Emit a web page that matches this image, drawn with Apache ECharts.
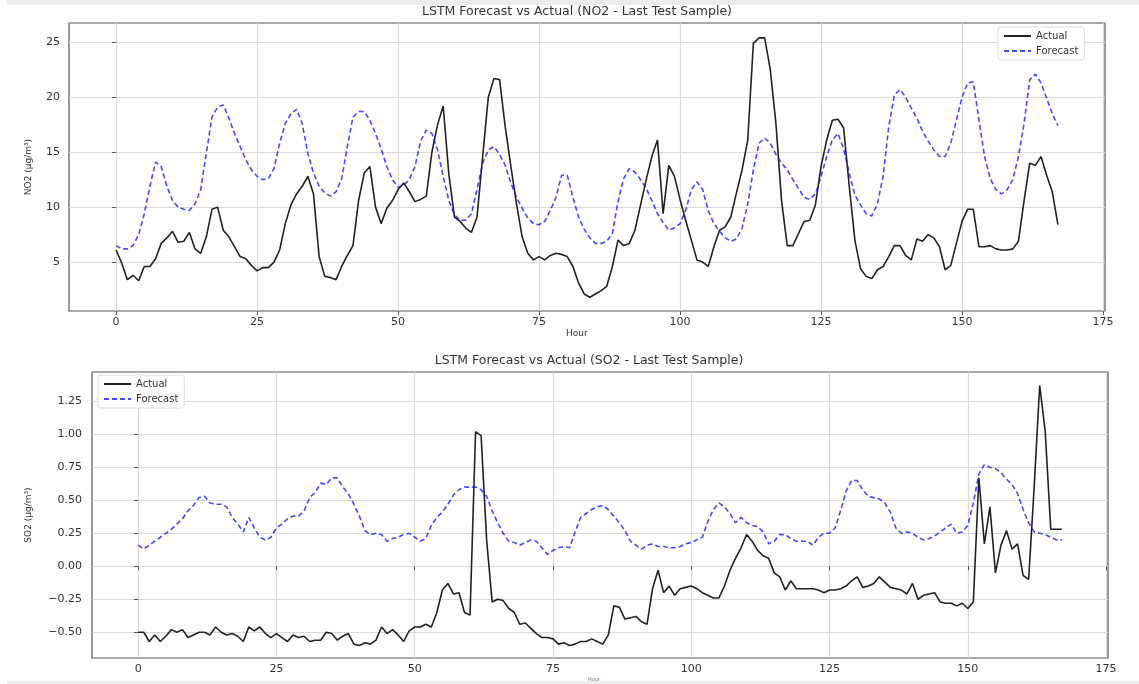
<!DOCTYPE html>
<html>
<head>
<meta charset="utf-8">
<script src="https://cdn.jsdelivr.net/npm/echarts@6/dist/echarts.min.js"></script>
<style>
html,body{margin:0;padding:0;background:#fff;}
#chart{width:1139px;height:684px;}
</style>
</head>
<body>
<div id="chart"></div>
<script>
// ---- data ----
const hourTicks = [0, 25, 50, 75, 100, 125, 150, 175];
const no2Ticks = [5, 10, 15, 20, 25];
const so2Ticks = [-0.5, -0.25, 0, 0.25, 0.5, 0.75, 1.0, 1.25];

const no2Actual = [
  6.1, 4.9, 3.4, 3.8, 3.3, 4.6, 4.6, 5.3, 6.7, 7.2,
  7.8, 6.8, 6.9, 7.7, 6.2, 5.8, 7.3, 9.8, 10.0, 7.9,
  7.3, 6.4, 5.5, 5.3, 4.7, 4.2, 4.5, 4.5, 5.0, 6.1,
  8.5, 10.2, 11.2, 11.9, 12.8, 11.2, 5.5, 3.7, 3.6, 3.4,
  4.6, 5.6, 6.5, 10.6, 13.1, 13.7, 10.0, 8.5, 9.9, 10.6,
  11.6, 12.2, 11.4, 10.5, 10.7, 11.0, 15.0, 17.5, 19.2, 13.0,
  9.1, 8.7, 8.1, 7.7, 9.1, 14.6, 20.0, 21.7, 21.6, 17.3,
  13.7, 10.3, 7.3, 5.8, 5.2, 5.5, 5.2, 5.6, 5.8, 5.7,
  5.5, 4.6, 3.1, 2.1, 1.8, 2.1, 2.4, 2.8, 4.6, 7.0,
  6.5, 6.7, 7.9, 10.2, 12.5, 14.6, 16.1, 9.4, 13.8, 12.8,
  10.7, 8.8, 7.0, 5.2, 5.0, 4.6, 6.4, 7.9, 8.2, 9.1,
  11.3, 13.4, 16.1, 24.9, 25.4, 25.4, 22.5, 17.6, 10.6, 6.5,
  6.5, 7.6, 8.7, 8.8, 10.2, 13.7, 16.1, 17.9, 18.0, 17.2,
  11.9, 7.0, 4.4, 3.7, 3.5, 4.3, 4.6, 5.5, 6.5, 6.5,
  5.6, 5.2, 7.1, 6.9, 7.5, 7.2, 6.4, 4.3, 4.7, 6.7,
  8.7, 9.8, 9.8, 6.4, 6.4, 6.5, 6.2, 6.1, 6.1, 6.2,
  6.9, 10.6, 14.0, 13.8, 14.6, 12.9, 11.4, 8.4
];
const no2Forecast = [
  6.5, 6.2, 6.2, 6.5, 7.5, 9.4, 11.9, 14.1, 13.7, 11.9,
  10.6, 10.0, 9.8, 9.7, 10.3, 11.6, 14.9, 18.2, 19.1, 19.3,
  18.1, 16.7, 15.5, 14.3, 13.4, 12.8, 12.5, 12.6, 13.5, 15.8,
  17.6, 18.5, 18.9, 17.6, 14.9, 13.1, 11.9, 11.3, 11.0, 11.4,
  12.6, 15.5, 18.2, 18.7, 18.7, 17.9, 16.7, 15.3, 13.7, 12.5,
  11.8, 12.0, 12.5, 13.7, 16.0, 17.0, 16.7, 15.2, 12.8, 10.6,
  9.3, 8.8, 8.8, 9.4, 11.6, 14.0, 15.2, 15.5, 14.8, 13.8,
  12.2, 10.9, 9.9, 9.0, 8.5, 8.4, 8.7, 9.7, 10.9, 12.9,
  12.9, 10.9, 9.1, 8.0, 7.2, 6.7, 6.7, 6.9, 7.6, 10.5,
  12.6, 13.5, 13.2, 12.5, 11.7, 10.6, 9.4, 8.6, 7.9, 8.1,
  8.5, 9.7, 11.6, 12.3, 11.6, 9.7, 8.5, 7.8, 7.2, 6.9,
  7.1, 8.1, 10.3, 13.4, 15.8, 16.3, 15.8, 14.8, 14.0, 13.4,
  12.5, 11.7, 10.9, 10.7, 11.2, 12.8, 14.6, 16.1, 16.7, 15.3,
  13.1, 11.1, 10.2, 9.4, 9.2, 10.3, 12.8, 17.3, 20.2, 20.7,
  20.0, 19.0, 18.1, 16.9, 16.0, 15.2, 14.6, 14.6, 15.8, 17.9,
  20.0, 21.3, 21.4, 17.9, 14.6, 12.6, 11.6, 11.2, 11.6, 12.5,
  14.6, 17.6, 21.6, 22.1, 21.3, 19.9, 18.5, 17.4
];
const so2Actual = [
  -0.50, -0.50, -0.57, -0.52, -0.57, -0.53, -0.48, -0.50, -0.48, -0.54,
  -0.52, -0.50, -0.50, -0.52, -0.46, -0.50, -0.52, -0.51, -0.53, -0.57,
  -0.46, -0.49, -0.46, -0.51, -0.54, -0.51, -0.54, -0.57, -0.52, -0.54,
  -0.53, -0.57, -0.56, -0.56, -0.50, -0.51, -0.56, -0.53, -0.51, -0.59,
  -0.60, -0.58, -0.59, -0.56, -0.46, -0.51, -0.48, -0.52, -0.57, -0.49,
  -0.46, -0.46, -0.44, -0.46, -0.35, -0.18, -0.13, -0.21, -0.20, -0.35,
  -0.37, 1.02, 0.99, 0.20, -0.27, -0.25, -0.26, -0.32, -0.35, -0.44,
  -0.43, -0.47, -0.51, -0.54, -0.54, -0.55, -0.59, -0.58, -0.60, -0.59,
  -0.57, -0.57, -0.55, -0.57, -0.59, -0.52, -0.30, -0.31, -0.40, -0.39,
  -0.38, -0.42, -0.44, -0.17, -0.03, -0.20, -0.15, -0.22, -0.17, -0.16,
  -0.15, -0.17, -0.20, -0.22, -0.24, -0.24, -0.15, -0.03, 0.06, 0.14,
  0.24, 0.19, 0.12, 0.08, 0.06, -0.05, -0.08, -0.18, -0.11, -0.17,
  -0.17, -0.17, -0.17, -0.18, -0.20, -0.18, -0.18, -0.17, -0.15, -0.11,
  -0.08, -0.16, -0.15, -0.13, -0.08, -0.12, -0.16, -0.17, -0.18, -0.21,
  -0.13, -0.25, -0.22, -0.21, -0.20, -0.27, -0.28, -0.28, -0.30, -0.28,
  -0.32, -0.27, 0.67, 0.17, 0.45, -0.05, 0.16, 0.27, 0.13, 0.17,
  -0.07, -0.10, 0.60, 1.37, 1.02, 0.28, 0.28, 0.28
];
const so2Forecast = [
  0.16, 0.13, 0.16, 0.19, 0.22, 0.25, 0.28, 0.32, 0.36, 0.42,
  0.46, 0.52, 0.53, 0.48, 0.47, 0.47, 0.45, 0.37, 0.32, 0.26,
  0.37, 0.29, 0.22, 0.20, 0.22, 0.29, 0.32, 0.36, 0.38, 0.38,
  0.42, 0.52, 0.56, 0.63, 0.62, 0.67, 0.67, 0.60, 0.55, 0.47,
  0.38, 0.27, 0.24, 0.25, 0.24, 0.19, 0.21, 0.22, 0.24, 0.25,
  0.22, 0.19, 0.21, 0.31, 0.37, 0.41, 0.47, 0.54, 0.58, 0.60,
  0.60, 0.60, 0.58, 0.53, 0.42, 0.33, 0.25, 0.19, 0.18, 0.16,
  0.18, 0.20, 0.19, 0.14, 0.09, 0.12, 0.14, 0.15, 0.14, 0.26,
  0.37, 0.40, 0.43, 0.45, 0.46, 0.43, 0.38, 0.33, 0.27, 0.19,
  0.16, 0.13, 0.16, 0.17, 0.15, 0.15, 0.14, 0.14, 0.15, 0.17,
  0.18, 0.20, 0.22, 0.34, 0.43, 0.48, 0.45, 0.40, 0.33, 0.37,
  0.33, 0.31, 0.30, 0.26, 0.17, 0.19, 0.24, 0.24, 0.21, 0.19,
  0.19, 0.19, 0.16, 0.22, 0.25, 0.25, 0.29, 0.42, 0.57, 0.65,
  0.65, 0.58, 0.53, 0.52, 0.51, 0.48, 0.41, 0.29, 0.25, 0.26,
  0.25, 0.22, 0.20, 0.21, 0.23, 0.26, 0.29, 0.32, 0.25, 0.26,
  0.31, 0.48, 0.70, 0.77, 0.75, 0.74, 0.71, 0.66, 0.62, 0.55,
  0.43, 0.33, 0.26, 0.25, 0.24, 0.22, 0.20, 0.20
];

// ---- chart ----
const toXY = arr => arr.map((v, i) => [i, v]);
const FONT = 'DejaVu Sans';
const txt = '#333';
const gridColor = '#d9d9d9';
const frameColor = '#555';
const actualColor = '#222';
const forecastColor = 'rgba(20,20,255,0.78)';

function xAxisCfg(gridIndex) {
  return {
    type: 'value', gridIndex: gridIndex, min: -8.35, max: 175.35,
    axisLine: {show: false},
    axisTick: {show: true, inside: false, length: 4, lineStyle: {color: frameColor}, customValues: hourTicks},
    axisLabel: {customValues: hourTicks, color: txt, fontSize: 11, fontFamily: FONT, margin: 6},
    splitLine: {show: true, lineStyle: {color: gridColor, width: 1.2}}
  };
}

function legendCfg(left, top) {
  return {
    data: ['Actual', 'Forecast'], orient: 'vertical', left: left, top: top,
    itemWidth: 27, itemHeight: 8, itemGap: 5,
    padding: [4, 6, 4, 5], backgroundColor: '#fff', borderColor: '#ddd', borderWidth: 1, borderRadius: 3,
    itemStyle: {opacity: 0},
    textStyle: {fontFamily: FONT, fontSize: 10, color: txt}
  };
}

const actualStyle = {color: actualColor, width: 1.6};
const forecastStyle = {color: forecastColor, width: 1.6, type: [5, 3]};

const chart = echarts.init(document.getElementById('chart'), null, {renderer: 'canvas'});
chart.setOption({
  backgroundColor: '#ffffff',
  animation: false,
  title: [
    {text: 'LSTM Forecast vs Actual (NO2 - Last Test Sample)', left: 577, top: 5, textAlign: 'center', padding: 0,
     textStyle: {fontFamily: FONT, fontSize: 12.5, fontWeight: 'normal', color: txt}},
    {text: 'LSTM Forecast vs Actual (SO2 - Last Test Sample)', left: 589, top: 354, textAlign: 'center', padding: 0,
     textStyle: {fontFamily: FONT, fontSize: 12.5, fontWeight: 'normal', color: txt}}
  ],
  grid: [
    {left: 69, top: 23, width: 1036, height: 288, show: true, borderColor: frameColor, borderWidth: 1.2, backgroundColor: 'transparent'},
    {left: 92, top: 372, width: 1016, height: 286, show: true, borderColor: frameColor, borderWidth: 1.2, backgroundColor: 'transparent'}
  ],
  legend: [legendCfg(998, 27), legendCfg(98, 375)],
  xAxis: [xAxisCfg(0), xAxisCfg(1)],
  yAxis: [
    {type: 'value', gridIndex: 0, min: 0.55, max: 26.75,
     name: 'NO2 (µg/m³)', nameLocation: 'middle', nameGap: 36,
     nameTextStyle: {fontFamily: FONT, fontSize: 9, color: txt},
     axisLine: {show: false},
     axisTick: {show: true, length: 4, lineStyle: {color: frameColor}, customValues: no2Ticks},
     axisLabel: {customValues: no2Ticks, color: txt, fontSize: 11, fontFamily: FONT, margin: 9},
     splitLine: {show: true, lineStyle: {color: gridColor, width: 1.2}}},
    {type: 'value', gridIndex: 1, min: -0.695, max: 1.472,
     name: 'SO2 (µg/m³)', nameLocation: 'middle', nameGap: 59,
     nameTextStyle: {fontFamily: FONT, fontSize: 9, color: txt},
     axisLine: {show: false},
     axisTick: {show: true, length: 4, lineStyle: {color: frameColor}, customValues: so2Ticks},
     axisLabel: {customValues: so2Ticks, color: txt, fontSize: 11, fontFamily: FONT, margin: 10,
       formatter: v => v.toFixed(2).replace('-', '\u2212')},
     splitLine: {show: true, lineStyle: {color: gridColor, width: 1.2}}}
  ],
  graphic: [
    {type: 'rect', shape: {x: 7, y: 0, width: 1132, height: 5}, style: {fill: '#ececec'}, z: -10, silent: true},
    {type: 'rect', shape: {x: 7, y: 681, width: 1132, height: 3}, style: {fill: '#ececec'}, z: -10, silent: true},
    {type: 'text', left: 566, top: 329, style: {text: 'Hour', fontFamily: FONT, fontSize: 9, fill: txt}, silent: true},
    {type: 'text', left: 588, top: 677, style: {text: 'Hour', fontFamily: FONT, fontSize: 5, fill: '#777'}, silent: true}
  ],
  series: [
    {name: 'Actual', type: 'line', xAxisIndex: 0, yAxisIndex: 0, data: toXY(no2Actual), symbol: 'none', lineStyle: actualStyle, itemStyle: {color: actualColor}, z: 3},
    {name: 'Forecast', type: 'line', xAxisIndex: 0, yAxisIndex: 0, data: toXY(no2Forecast), symbol: 'none', lineStyle: forecastStyle, itemStyle: {color: forecastColor}, z: 4},
    {name: 'Actual', type: 'line', xAxisIndex: 1, yAxisIndex: 1, data: toXY(so2Actual), symbol: 'none', lineStyle: actualStyle, itemStyle: {color: actualColor}, z: 3},
    {name: 'Forecast', type: 'line', xAxisIndex: 1, yAxisIndex: 1, data: toXY(so2Forecast), symbol: 'none', lineStyle: forecastStyle, itemStyle: {color: forecastColor}, z: 4}
  ]
});
</script>
</body>
</html>
